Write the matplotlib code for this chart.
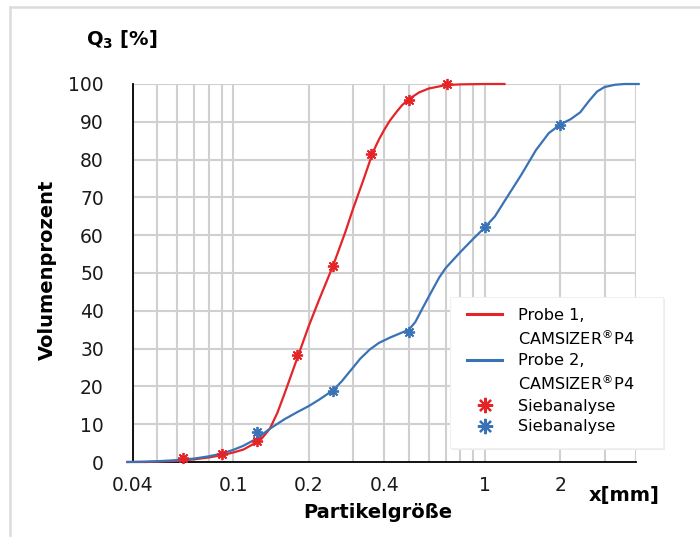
"""Cumulative particle size distribution Q3 - CAMSIZER P4 vs. sieve analysis."""

import matplotlib
matplotlib.use("Agg")
import matplotlib.pyplot as plt
from matplotlib.lines import Line2D
from matplotlib.patches import Rectangle

# Probe 1, CAMSIZER P4 (x in mm, Q3 in %)
probe1_x = [0.038, 0.045, 0.05, 0.06, 0.07, 0.08, 0.09, 0.1, 0.11, 0.12, 0.13,
            0.14, 0.15, 0.16, 0.18, 0.2, 0.22, 0.25, 0.28, 0.3, 0.33, 0.36,
            0.38, 0.4, 0.42, 0.45, 0.47, 0.5, 0.55, 0.6, 0.7, 0.8, 1.0, 1.2]
probe1_q3 = [0, 0, 0.1, 0.3, 0.7, 1.2, 1.8, 2.5, 3.3, 4.7, 6.2,
             8.8, 13, 18, 27.5, 36, 43, 52, 61, 67, 74.7, 82,
             85.3, 88, 90.3, 92.9, 94.4, 96, 97.8, 98.8, 99.7, 99.9, 100, 100]

# Probe 2, CAMSIZER P4
probe2_x = [0.038, 0.045, 0.05, 0.06, 0.07, 0.08, 0.09, 0.1, 0.11, 0.125,
            0.14, 0.16, 0.18, 0.2, 0.22, 0.25, 0.27, 0.3, 0.32, 0.35, 0.38,
            0.42, 0.46, 0.5, 0.53, 0.57, 0.62, 0.66, 0.7, 0.8, 0.9, 1.0,
            1.1, 1.2, 1.4, 1.6, 1.8, 2.0, 2.2, 2.4, 2.6, 2.8, 3.0, 3.3, 3.6,
            4.1]
probe2_q3 = [0, 0.1, 0.2, 0.5, 0.9, 1.5, 2.2, 3.2, 4.3, 6.3,
             8.8, 11.3, 13.2, 14.8, 16.5, 19, 21.3, 25, 27.3, 29.8, 31.5,
             32.9, 34, 35, 37, 41, 45.5, 48.8, 51.3, 55.5, 59, 62,
             65, 69, 76, 82.5, 87, 89.3, 90.7, 92.5, 95.5, 98, 99.2, 99.8, 100,
             100]

# Sieve analysis
sieve1_x = [0.063, 0.09, 0.125, 0.18, 0.25, 0.355, 0.5, 0.71]
sieve1_q3 = [1.0, 2.2, 5.6, 28.3, 51.9, 81.5, 95.8, 99.9]
sieve2_x = [0.125, 0.25, 0.5, 1.0, 2.0]
sieve2_q3 = [8.0, 18.9, 34.4, 62.2, 89.2]

xtick_vals = [0.04, 0.1, 0.2, 0.4, 1, 2]
xtick_labels = ['0.04', '0.1', '0.2', '0.4', '1', '2']
xgrid_vals = [0.04, 0.05, 0.06, 0.07, 0.08, 0.09, 0.1, 0.2, 0.3, 0.4, 0.5,
              0.6, 0.7, 0.8, 0.9, 1, 2, 3, 4]

red = '#e52428'
blue = '#3a72b6'
grid_col = '#d0d0d0'

plt.rcParams['font.family'] = 'DejaVu Sans'
plt.rcParams['mathtext.fontset'] = 'dejavusans'

W, H = 700, 537
fig = plt.figure(figsize=(W / 100, H / 100), dpi=100)
ax = fig.add_axes([133 / W, 1 - 462 / H, 503 / W, 378 / H])

# light frame around the whole chart
fig.add_artist(Line2D([10 / W, 1.0], [1 - 7 / H, 1 - 7 / H],
                      transform=fig.transFigure, color='#dcdcdc', lw=1.8))
fig.add_artist(Line2D([10 / W, 10 / W], [0.0, 1 - 7 / H],
                      transform=fig.transFigure, color='#dcdcdc', lw=1.8))

ax.set_xscale('log')
ax.set_xlim(0.04, 4)
ax.set_ylim(0, 100)

# grid
for gx in xgrid_vals:
    ax.axvline(gx, color=grid_col, lw=1.5, zorder=0)
for gy in range(10, 101, 10):
    ax.axhline(gy, color=grid_col, lw=1.5, zorder=0)

ax.plot(probe1_x, probe1_q3, color=red, lw=1.6, clip_on=False, zorder=3)
ax.plot(probe2_x, probe2_q3, color=blue, lw=1.6, clip_on=False, zorder=3)
ax.plot(sieve1_x, sieve1_q3, ls='none', marker=(8, 2, 0), ms=8, mew=1.3,
        color=red, clip_on=False, zorder=4)
ax.plot(sieve2_x, sieve2_q3, ls='none', marker=(8, 2, 0), ms=8, mew=1.3,
        color=blue, clip_on=False, zorder=4)

ax.set_xticks(xtick_vals)
ax.set_xticklabels(xtick_labels)
ax.xaxis.set_minor_locator(matplotlib.ticker.NullLocator())
ax.set_yticks(range(0, 101, 10))
ax.tick_params(axis='x', length=0, pad=10, labelsize=13.5, colors='#1a1a1a')
ax.tick_params(axis='y', length=0, pad=21, labelsize=13.5, colors='#1a1a1a')

ax.spines['top'].set_visible(False)
ax.spines['right'].set_visible(False)
ax.spines['left'].set_linewidth(1.3)
ax.spines['bottom'].set_linewidth(1.3)

# axis titles
fig.text(47 / W, 1 - 270 / H, 'Volumenprozent', rotation=90,
         ha='center', va='center', fontsize=14, fontweight='bold')
fig.text(378 / W, 1 - 512 / H, 'Partikelgröße',
         ha='center', va='center', fontsize=14, fontweight='bold')
fig.text(624 / W, 1 - 495 / H, 'x[mm]',
         ha='center', va='center', fontsize=14, fontweight='bold')
fig.text(122 / W, 1 - 40 / H, r'Q$_\mathbf{3}$ [%]',
         ha='center', va='center', fontsize=14, fontweight='bold')

# legend box: soft shadow + white panel
fig.add_artist(Rectangle((452 / W, 1 - 450 / H), 213 / W, 151 / H,
                         transform=fig.transFigure, facecolor='#ececec',
                         edgecolor='none', zorder=5))
fig.add_artist(Rectangle((450 / W, 1 - 448 / H), 213 / W, 151 / H,
                         transform=fig.transFigure, facecolor='white',
                         edgecolor='#f0f0f0', lw=0.8, zorder=6))

# legend rows: the line handle sits on the first line of each two-line label
blank = Line2D([], [], color='none')
handles = [
    Line2D([], [], color=red, lw=2.2), blank,
    Line2D([], [], color=blue, lw=2.2), blank,
    Line2D([], [], ls='none', marker=(8, 2, 0), ms=11, mew=1.6, color=red),
    Line2D([], [], ls='none', marker=(8, 2, 0), ms=11, mew=1.6, color=blue),
]
labels = ['Probe 1,', 'CAMSIZER$^{\\circledR}$P4',
          'Probe 2,', 'CAMSIZER$^{\\circledR}$P4',
          'Siebanalyse', 'Siebanalyse']
leg = fig.legend(handles, labels, loc='upper left',
                 bbox_to_anchor=(467 / W, 1 - 308 / H),
                 fontsize=11.6, frameon=False,
                 handlelength=2.2, handletextpad=0.95, labelspacing=0.34,
                 borderpad=0, borderaxespad=0)
leg.set_zorder(7)

plt.savefig('out.png', dpi=100)
